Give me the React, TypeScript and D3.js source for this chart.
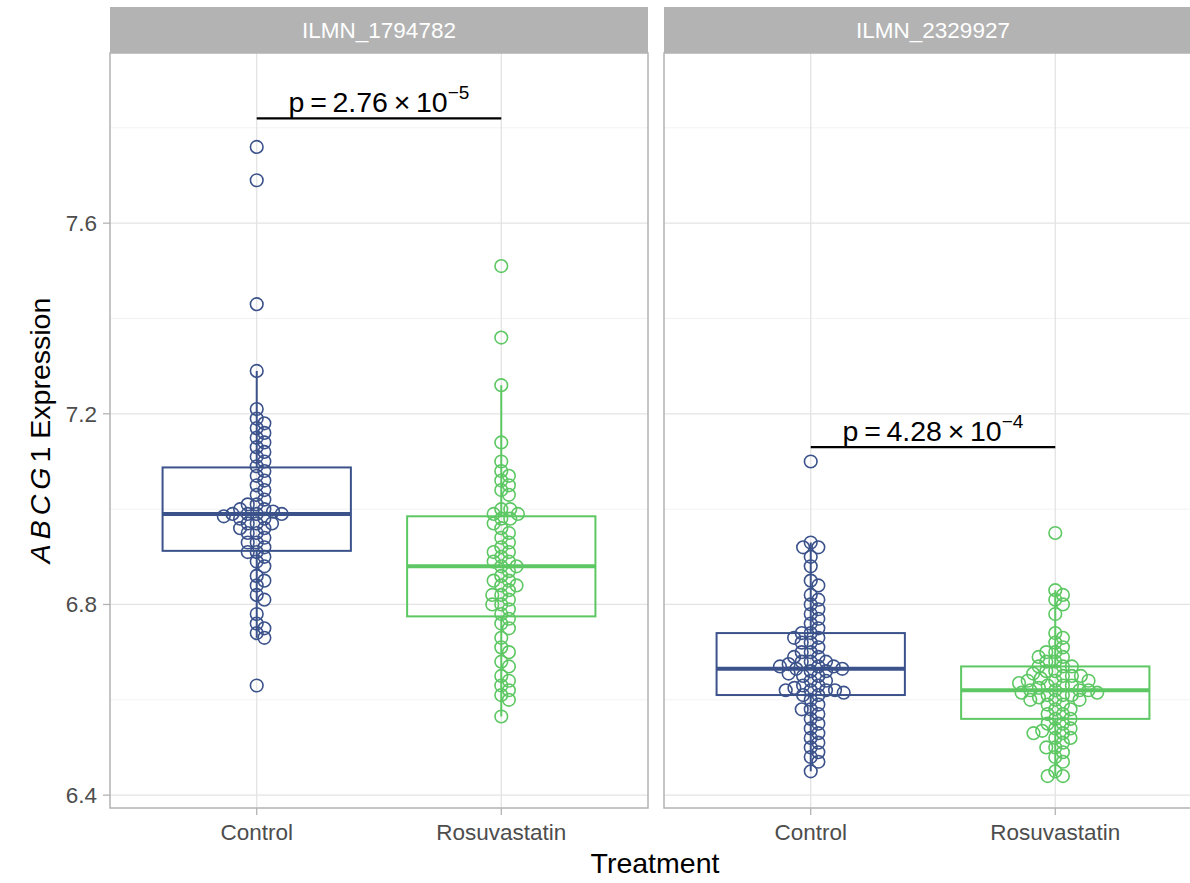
import * as d3 from 'd3'

const categories = ['Control', 'Rosuvastatin']
const probes = ['ILMN_1794782', 'ILMN_2329927']
const yTicks = [6.4, 6.8, 7.2, 7.6]
const yMinor = [6.6, 7.0, 7.4, 7.8]
const colors = ['#3B528B', '#5DC863']

// expression values
const ctrl1794782 = [7.76, 7.69, 7.43, 7.29, 7.21, 7.19, 7.18, 7.17, 7.16, 7.15, 7.14, 7.13, 7.12, 7.11, 7.10, 7.09, 7.08, 7.07, 7.06, 7.05, 7.04, 7.03, 7.02, 7.01, 7.01, 7.00, 7.00, 6.995, 6.99, 6.99, 6.99, 6.99, 6.985, 6.98, 6.98, 6.97, 6.97, 6.97, 6.96, 6.96, 6.95, 6.95, 6.94, 6.93, 6.93, 6.92, 6.91, 6.91, 6.90, 6.89, 6.88, 6.86, 6.85, 6.84, 6.82, 6.81, 6.78, 6.76, 6.75, 6.74, 6.73, 6.63]
const rosu1794782 = [7.51, 7.36, 7.26, 7.14, 7.10, 7.08, 7.07, 7.06, 7.05, 7.04, 7.03, 7.00, 7.00, 6.99, 6.99, 6.98, 6.98, 6.97, 6.96, 6.95, 6.94, 6.93, 6.92, 6.91, 6.91, 6.90, 6.89, 6.89, 6.88, 6.88, 6.87, 6.86, 6.85, 6.85, 6.84, 6.84, 6.83, 6.82, 6.82, 6.81, 6.80, 6.80, 6.79, 6.78, 6.77, 6.76, 6.75, 6.73, 6.71, 6.70, 6.68, 6.67, 6.65, 6.64, 6.63, 6.62, 6.61, 6.60, 6.565]
const ctrl2329927 = [7.10, 6.93, 6.92, 6.92, 6.90, 6.88, 6.85, 6.84, 6.82, 6.81, 6.80, 6.79, 6.78, 6.77, 6.76, 6.75, 6.74, 6.74, 6.73, 6.73, 6.72, 6.72, 6.71, 6.70, 6.70, 6.69, 6.69, 6.68, 6.68, 6.68, 6.675, 6.67, 6.67, 6.67, 6.665, 6.665, 6.66, 6.66, 6.655, 6.65, 6.65, 6.64, 6.64, 6.63, 6.63, 6.625, 6.62, 6.62, 6.62, 6.62, 6.615, 6.61, 6.61, 6.60, 6.59, 6.58, 6.58, 6.57, 6.56, 6.55, 6.54, 6.53, 6.52, 6.51, 6.50, 6.49, 6.48, 6.47, 6.45]
const rosu2329927 = [6.95, 6.83, 6.82, 6.81, 6.80, 6.78, 6.74, 6.73, 6.72, 6.71, 6.70, 6.70, 6.69, 6.69, 6.68, 6.68, 6.67, 6.67, 6.67, 6.66, 6.66, 6.655, 6.65, 6.65, 6.65, 6.645, 6.64, 6.64, 6.64, 6.635, 6.63, 6.63, 6.63, 6.625, 6.62, 6.62, 6.62, 6.62, 6.615, 6.615, 6.61, 6.61, 6.61, 6.605, 6.60, 6.60, 6.60, 6.59, 6.59, 6.58, 6.58, 6.57, 6.57, 6.56, 6.56, 6.55, 6.55, 6.54, 6.54, 6.535, 6.53, 6.53, 6.52, 6.52, 6.51, 6.50, 6.50, 6.49, 6.48, 6.47, 6.45, 6.44, 6.44]

const pMantissa = ['2.76', '4.28']
const pExponent = ['\u22125', '\u22124']
const pBracketY = [7.82, 7.13]

const groups = [
  [ctrl1794782, rosu1794782],
  [ctrl2329927, rosu2329927],
]

const font = '"Liberation Sans", Arial, sans-serif'

function boxStats(values) {
  const s = values.slice().sort(d3.ascending)
  const q1 = d3.quantile(s, 0.25)
  const med = d3.quantile(s, 0.5)
  const q3 = d3.quantile(s, 0.75)
  const iqr = q3 - q1
  const lo = d3.min(s.filter((v) => v >= q1 - 1.5 * iqr))
  const hi = d3.max(s.filter((v) => v <= q3 + 1.5 * iqr))
  return { q1, med, q3, lo, hi }
}

// simple swarm: place each point at the smallest offset that does not collide
function swarm(ys, d) {
  const order = ys.map((y, i) => i).sort((a, b) => ys[a] - ys[b])
  const placed = []
  const xs = new Array(ys.length).fill(0)
  order.forEach((i) => {
    const y = ys[i]
    const near = placed.filter((p) => Math.abs(p.y - y) < d)
    const cands = [0]
    near.forEach((p) => {
      const dx = Math.sqrt(d * d - (p.y - y) * (p.y - y))
      cands.push(p.x + dx, p.x - dx)
    })
    cands.sort((a, b) => Math.abs(a) - Math.abs(b))
    const x = cands.find((c) =>
      near.every((p) => (p.x - c) ** 2 + (p.y - y) ** 2 >= d * d - 0.01)
    )
    xs[i] = x
    placed.push({ x, y })
  })
  return xs
}

export default function App() {
  const W = 1190
  const H = 883
  const top = 53
  const bottom = 808
  const stripTop = 7
  const panels = [
    [110, 648],
    [664, 1202],
  ]

  const y = d3.scaleLinear().domain([6.373, 7.957]).range([bottom, top])

  return (
    <svg
      width={W}
      height={H}
      style={{ position: 'absolute', left: 0, top: 0, background: '#fff' }}
      fontFamily={font}
    >
      <defs>
        <clipPath id='page'>
          <rect x={0} y={0} width={W} height={H} />
        </clipPath>
      </defs>
      <g clipPath='url(#page)'>
        {panels.map(([x0, x1], pi) => {
          const x = d3
            .scalePoint()
            .domain(categories)
            .range([x0, x1])
            .padding(0.6)
          const step = x.step()
          const boxW = step * 0.77
          return (
            <g key={pi}>
              <rect x={x0} y={top} width={x1 - x0} height={bottom - top} fill='#fff' />
              {yMinor.map((t) => (
                <line key={t} x1={x0} x2={x1} y1={y(t)} y2={y(t)} stroke='#efefef' strokeWidth={0.8} />
              ))}
              {yTicks.map((t) => (
                <line key={t} x1={x0} x2={x1} y1={y(t)} y2={y(t)} stroke='#e3e3e3' strokeWidth={1.3} />
              ))}
              {categories.map((c) => (
                <line key={c} x1={x(c)} x2={x(c)} y1={top} y2={bottom} stroke='#e3e3e3' strokeWidth={1.3} />
              ))}
              {categories.map((c, ci) => {
                const vals = groups[pi][ci]
                const st = boxStats(vals)
                const cx = x(c)
                const col = colors[ci]
                const pys = vals.map((v) => y(v))
                const offs = swarm(pys, 9)
                return (
                  <g key={c}>
                    <line x1={cx} x2={cx} y1={y(st.hi)} y2={y(st.q3)} stroke={col} strokeWidth={2} />
                    <line x1={cx} x2={cx} y1={y(st.q1)} y2={y(st.lo)} stroke={col} strokeWidth={2} />
                    <rect
                      x={cx - boxW / 2}
                      y={y(st.q3)}
                      width={boxW}
                      height={y(st.q1) - y(st.q3)}
                      fill='none'
                      stroke={col}
                      strokeWidth={2}
                    />
                    <line x1={cx - boxW / 2} x2={cx + boxW / 2} y1={y(st.med)} y2={y(st.med)} stroke={col} strokeWidth={4} />
                    {vals.map((v, i) => (
                      <circle key={i} cx={cx + offs[i]} cy={pys[i]} r={6.3} fill='none' stroke={col} strokeWidth={1.6} />
                    ))}
                  </g>
                )
              })}
              {/* p-value bracket */}
              <line
                x1={x(categories[0])}
                x2={x(categories[1])}
                y1={y(pBracketY[pi])}
                y2={y(pBracketY[pi])}
                stroke='#000'
                strokeWidth={2.2}
              />
              <text
                x={(x(categories[0]) + x(categories[1])) / 2}
                y={y(pBracketY[pi]) - 6}
                textAnchor='middle'
                fontSize={28.5}
                fill='#000'
              >
                {'p\u2009=\u2009' + pMantissa[pi] + '\u2009\u00d7\u200910'}
                <tspan fontSize={19} dy={-13}>{pExponent[pi]}</tspan>
              </text>
              <rect x={x0} y={top} width={x1 - x0} height={bottom - top} fill='none' stroke='#b3b3b3' strokeWidth={1.5} />
              {/* strip */}
              <rect x={x0} y={stripTop} width={x1 - x0} height={top - stripTop} fill='#b3b3b3' />
              <text x={(x0 + x1) / 2} y={(stripTop + top) / 2 + 8} textAnchor='middle' fontSize={22.5} fill='#fff'>
                {probes[pi]}
              </text>
              {/* x axis */}
              {categories.map((c) => (
                <g key={c}>
                  <line x1={x(c)} x2={x(c)} y1={bottom} y2={bottom + 7} stroke='#b3b3b3' strokeWidth={1.3} />
                  <text x={x(c)} y={bottom + 32} textAnchor='middle' fontSize={22.5} fill='#4d4d4d'>
                    {c}
                  </text>
                </g>
              ))}
            </g>
          )
        })}
        {/* y axis */}
        {yTicks.map((t) => (
          <g key={t}>
            <line x1={103} x2={110} y1={y(t)} y2={y(t)} stroke='#b3b3b3' strokeWidth={1.3} />
            <text x={97} y={y(t) + 8} textAnchor='end' fontSize={22.5} fill='#4d4d4d'>
              {t.toFixed(1)}
            </text>
          </g>
        ))}
        <text
          transform={`translate(${50},${(top + bottom) / 2}) rotate(-90)`}
          textAnchor='middle'
          fontSize={28.5}
          fill='#000'
        >
          <tspan fontStyle='italic' letterSpacing={5}>ABCG</tspan>
          <tspan>1 Expression</tspan>
        </text>
        <text x={655} y={873} textAnchor='middle' fontSize={28.5} fill='#000'>
          Treatment
        </text>
      </g>
    </svg>
  )
}
